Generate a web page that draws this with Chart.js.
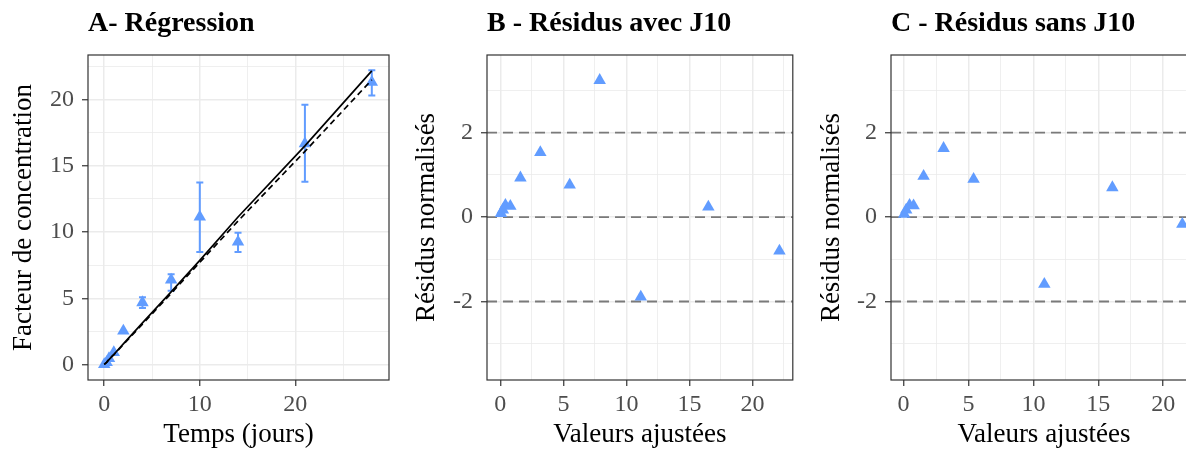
<!DOCTYPE html>
<html><head><meta charset="utf-8">
<script src="https://cdn.jsdelivr.net/npm/chart.js@4.4.1/dist/chart.umd.min.js"></script>
<style>
html,body{margin:0;padding:0;background:#fff;overflow:hidden;width:1186px;height:451px;position:relative;}
canvas{position:absolute;top:0;}
</style></head><body>
<canvas id="cA" width="400" height="451" style="left:0px"></canvas>
<canvas id="cB" width="400" height="451" style="left:400px"></canvas>
<canvas id="cC" width="410" height="451" style="left:800px"></canvas>
<script>
// ---- data ----
const days        = [0, 0.25, 0.5, 1, 2, 4, 7, 10, 14, 21, 28];
const observed    = [0.05, 0.2, 0.5, 0.95, 2.56, 4.7, 6.4, 11.15, 9.27, 16.67, 21.3];
const errLow      = [null, null, null, null, null, 4.3, 5.59, 8.5, 8.5, 13.8, 20.3];
const errHigh     = [null, null, null, null, null, 5.1, 6.84, 13.74, 9.95, 19.6, 22.2];
const fittedAll   = [0.05, 0.2, 0.4, 0.79, 1.59, 3.17, 5.5, 7.88, 11.14, 16.5, 22.14];
const residAll    = [0.09, 0.17, 0.28, 0.26, 0.93, 1.53, 0.76, 3.24, -1.89, 0.24, -0.8];
const daysNoJ10   = [0, 0.25, 0.5, 1, 2, 4, 7, 14, 21, 28];
const fittedNoJ10 = [0.05, 0.2, 0.46, 0.77, 1.54, 3.08, 5.39, 10.84, 16.08, 21.47];
const residNoJ10  = [0.07, 0.17, 0.28, 0.27, 0.97, 1.63, 0.9, -1.59, 0.70, -0.17];
const refLines    = [-2, 0, 2];

const xMajorA = [0, 10, 20],        xMinorA = [5, 15, 25];
const yMajorA = [0, 5, 10, 15, 20], yMinorA = [2.5, 7.5, 12.5, 17.5, 22.5];
const xMajorR = [0, 5, 10, 15, 20], xMinorR = [2.5, 7.5, 12.5, 17.5, 22.5];
const yMajorR = [-2, 0, 2],         yMinorR = [-3, -1, 1, 3];

const titles = ['A- Régression', 'B - Résidus avec J10', 'C - Résidus sans J10'];
const xTitles = ['Temps (jours)', 'Valeurs ajustées', 'Valeurs ajustées'];
const yTitles = ['Facteur de concentration', 'Résidus normalisés', 'Résidus normalisés'];

// ---- styling ----
const FONT = "'Liberation Serif', 'Times New Roman', serif";
const BLUE = '#619CFF';

function framePlugin() {
  return { id: 'frame', afterDraw(chart) {
    const {ctx, chartArea: a} = chart;
    ctx.save(); ctx.strokeStyle = '#333333'; ctx.lineWidth = 1.2;
    ctx.strokeRect(a.left, a.top, a.right - a.left, a.bottom - a.top);
    ctx.restore();
  }};
}
function hlinePlugin(values) {
  return { id: 'hlines', beforeDatasetsDraw(chart) {
    const {ctx, chartArea: a} = chart, y = chart.scales.y;
    ctx.save(); ctx.strokeStyle = '#7A7A7A'; ctx.lineWidth = 1.9; ctx.setLineDash([10, 6]);
    values.forEach(v => { const py = y.getPixelForValue(v);
      ctx.beginPath(); ctx.moveTo(a.left, py); ctx.lineTo(a.right, py); ctx.stroke(); });
    ctx.restore();
  }};
}
function errbarPlugin(xs, lo, hi) {
  return { id: 'errbars', beforeDatasetsDraw(chart) {
    const {ctx} = chart, sx = chart.scales.x, sy = chart.scales.y;
    ctx.save(); ctx.strokeStyle = BLUE; ctx.lineWidth = 2;
    xs.forEach((d, i) => {
      if (lo[i] == null || hi[i] == null) return;
      const px = sx.getPixelForValue(d), y1 = sy.getPixelForValue(lo[i]), y2 = sy.getPixelForValue(hi[i]);
      ctx.beginPath();
      ctx.moveTo(px, y1); ctx.lineTo(px, y2);
      ctx.moveTo(px - 3.5, y1); ctx.lineTo(px + 3.5, y1);
      ctx.moveTo(px - 3.5, y2); ctx.lineTo(px + 3.5, y2);
      ctx.stroke();
    });
    ctx.restore();
  }};
}

function axis(opts) {
  const all = opts.major.concat(opts.minor).sort((a, b) => a - b);
  const isMinor = v => opts.minor.includes(v);
  return {
    type: 'linear', position: opts.position, min: opts.min, max: opts.max,
    afterBuildTicks: ax => { ax.ticks = all.map(v => ({value: v})); },
    afterFit: ax => { if (opts.position === 'left') ax.width = opts.size; else ax.height = opts.size; },
    border: {display: false},
    grid: {
      color: '#EBEBEB',
      lineWidth: c => (c.tick && isMinor(c.tick.value)) ? 0.8 : 1.5,
      tickColor: c => (c.tick && isMinor(c.tick.value)) ? 'rgba(0,0,0,0)' : '#333333',
      tickWidth: 1.2, tickLength: 6, drawTicks: true
    },
    ticks: {
      autoSkip: false, maxRotation: 0, minRotation: 0, padding: opts.tickPad,
      color: '#4D4D4D', font: {family: FONT, size: 24},
      callback: v => isMinor(v) ? '' : String(v)
    },
    title: {display: true, text: opts.title, color: '#000', font: {family: FONT, size: 27},
      padding: opts.titlePad}
  };
}

function makeChart(id, idx, datasets, xr, yr, plugins, padRight, yTitleOffset) {
  return new Chart(document.getElementById(id), {
    type: 'scatter',
    data: {datasets},
    options: {
      responsive: false, animation: false, events: [],
      layout: {padding: {left: 0, right: padRight, top: 0, bottom: 0}},
      plugins: {
        legend: {display: false}, tooltip: {enabled: false},
        title: {display: true, text: titles[idx], align: 'start', fullSize: false, color: '#000',
          font: {family: FONT, size: 28, weight: 'bold', lineHeight: 1.2}, padding: {top: 7.2, bottom: 14.2}}
      },
      scales: {
        x: axis({position: 'bottom', min: xr[0], max: xr[1], major: xr[2], minor: xr[3], size: 71,
          tickPad: 4, title: xTitles[idx], titlePad: {top: 0, bottom: 0}}),
        y: axis({position: 'left', min: yr[0], max: yr[1], major: yr[2], minor: yr[3], size: yr[4],
          tickPad: 8, title: yTitles[idx], titlePad: {top: yTitleOffset, bottom: 0}})
      }
    },
    plugins: plugins
  });
}

function pts(xs, ys) { return xs.map((x, i) => ({x, y: ys[i]})); }
const pointStyle = {pointStyle: 'triangle', pointRadius: 7.2, backgroundColor: BLUE, borderWidth: 0, showLine: false};

// Panel A
makeChart('cA', 0, [
  Object.assign({type: 'scatter', data: pts(days, observed), order: 3}, pointStyle),
  {type: 'line', data: pts(days, fittedAll), borderColor: '#000', borderWidth: 1.7, pointRadius: 0, showLine: true, fill: false, order: 1},
  {type: 'line', data: pts(daysNoJ10, fittedNoJ10), borderColor: '#000', borderWidth: 1.7, borderDash: [6, 4], pointRadius: 0, showLine: true, fill: false, order: 2}
], [-1.7, 29.8, xMajorA, xMinorA], [-1.13, 23.34, yMajorA, yMinorA, 88],
  [errbarPlugin(days, errLow, errHigh), framePlugin()], 11, 8);

// Panel B
makeChart('cB', 1, [
  Object.assign({type: 'scatter', data: pts(fittedAll, residAll)}, pointStyle)
], [-1.06, 23.2, xMajorR, xMinorR], [-3.86, 3.84, yMajorR, yMinorR, 87],
  [hlinePlugin(refLines), framePlugin()], 7, 11);

// Panel C
makeChart('cC', 2, [
  Object.assign({type: 'scatter', data: pts(fittedNoJ10, residNoJ10)}, pointStyle)
], [-0.97, 22.6, xMajorR, xMinorR], [-3.86, 3.84, yMajorR, yMinorR, 91],
  [hlinePlugin(refLines), framePlugin()], 13, 16);
</script>
</body></html>
